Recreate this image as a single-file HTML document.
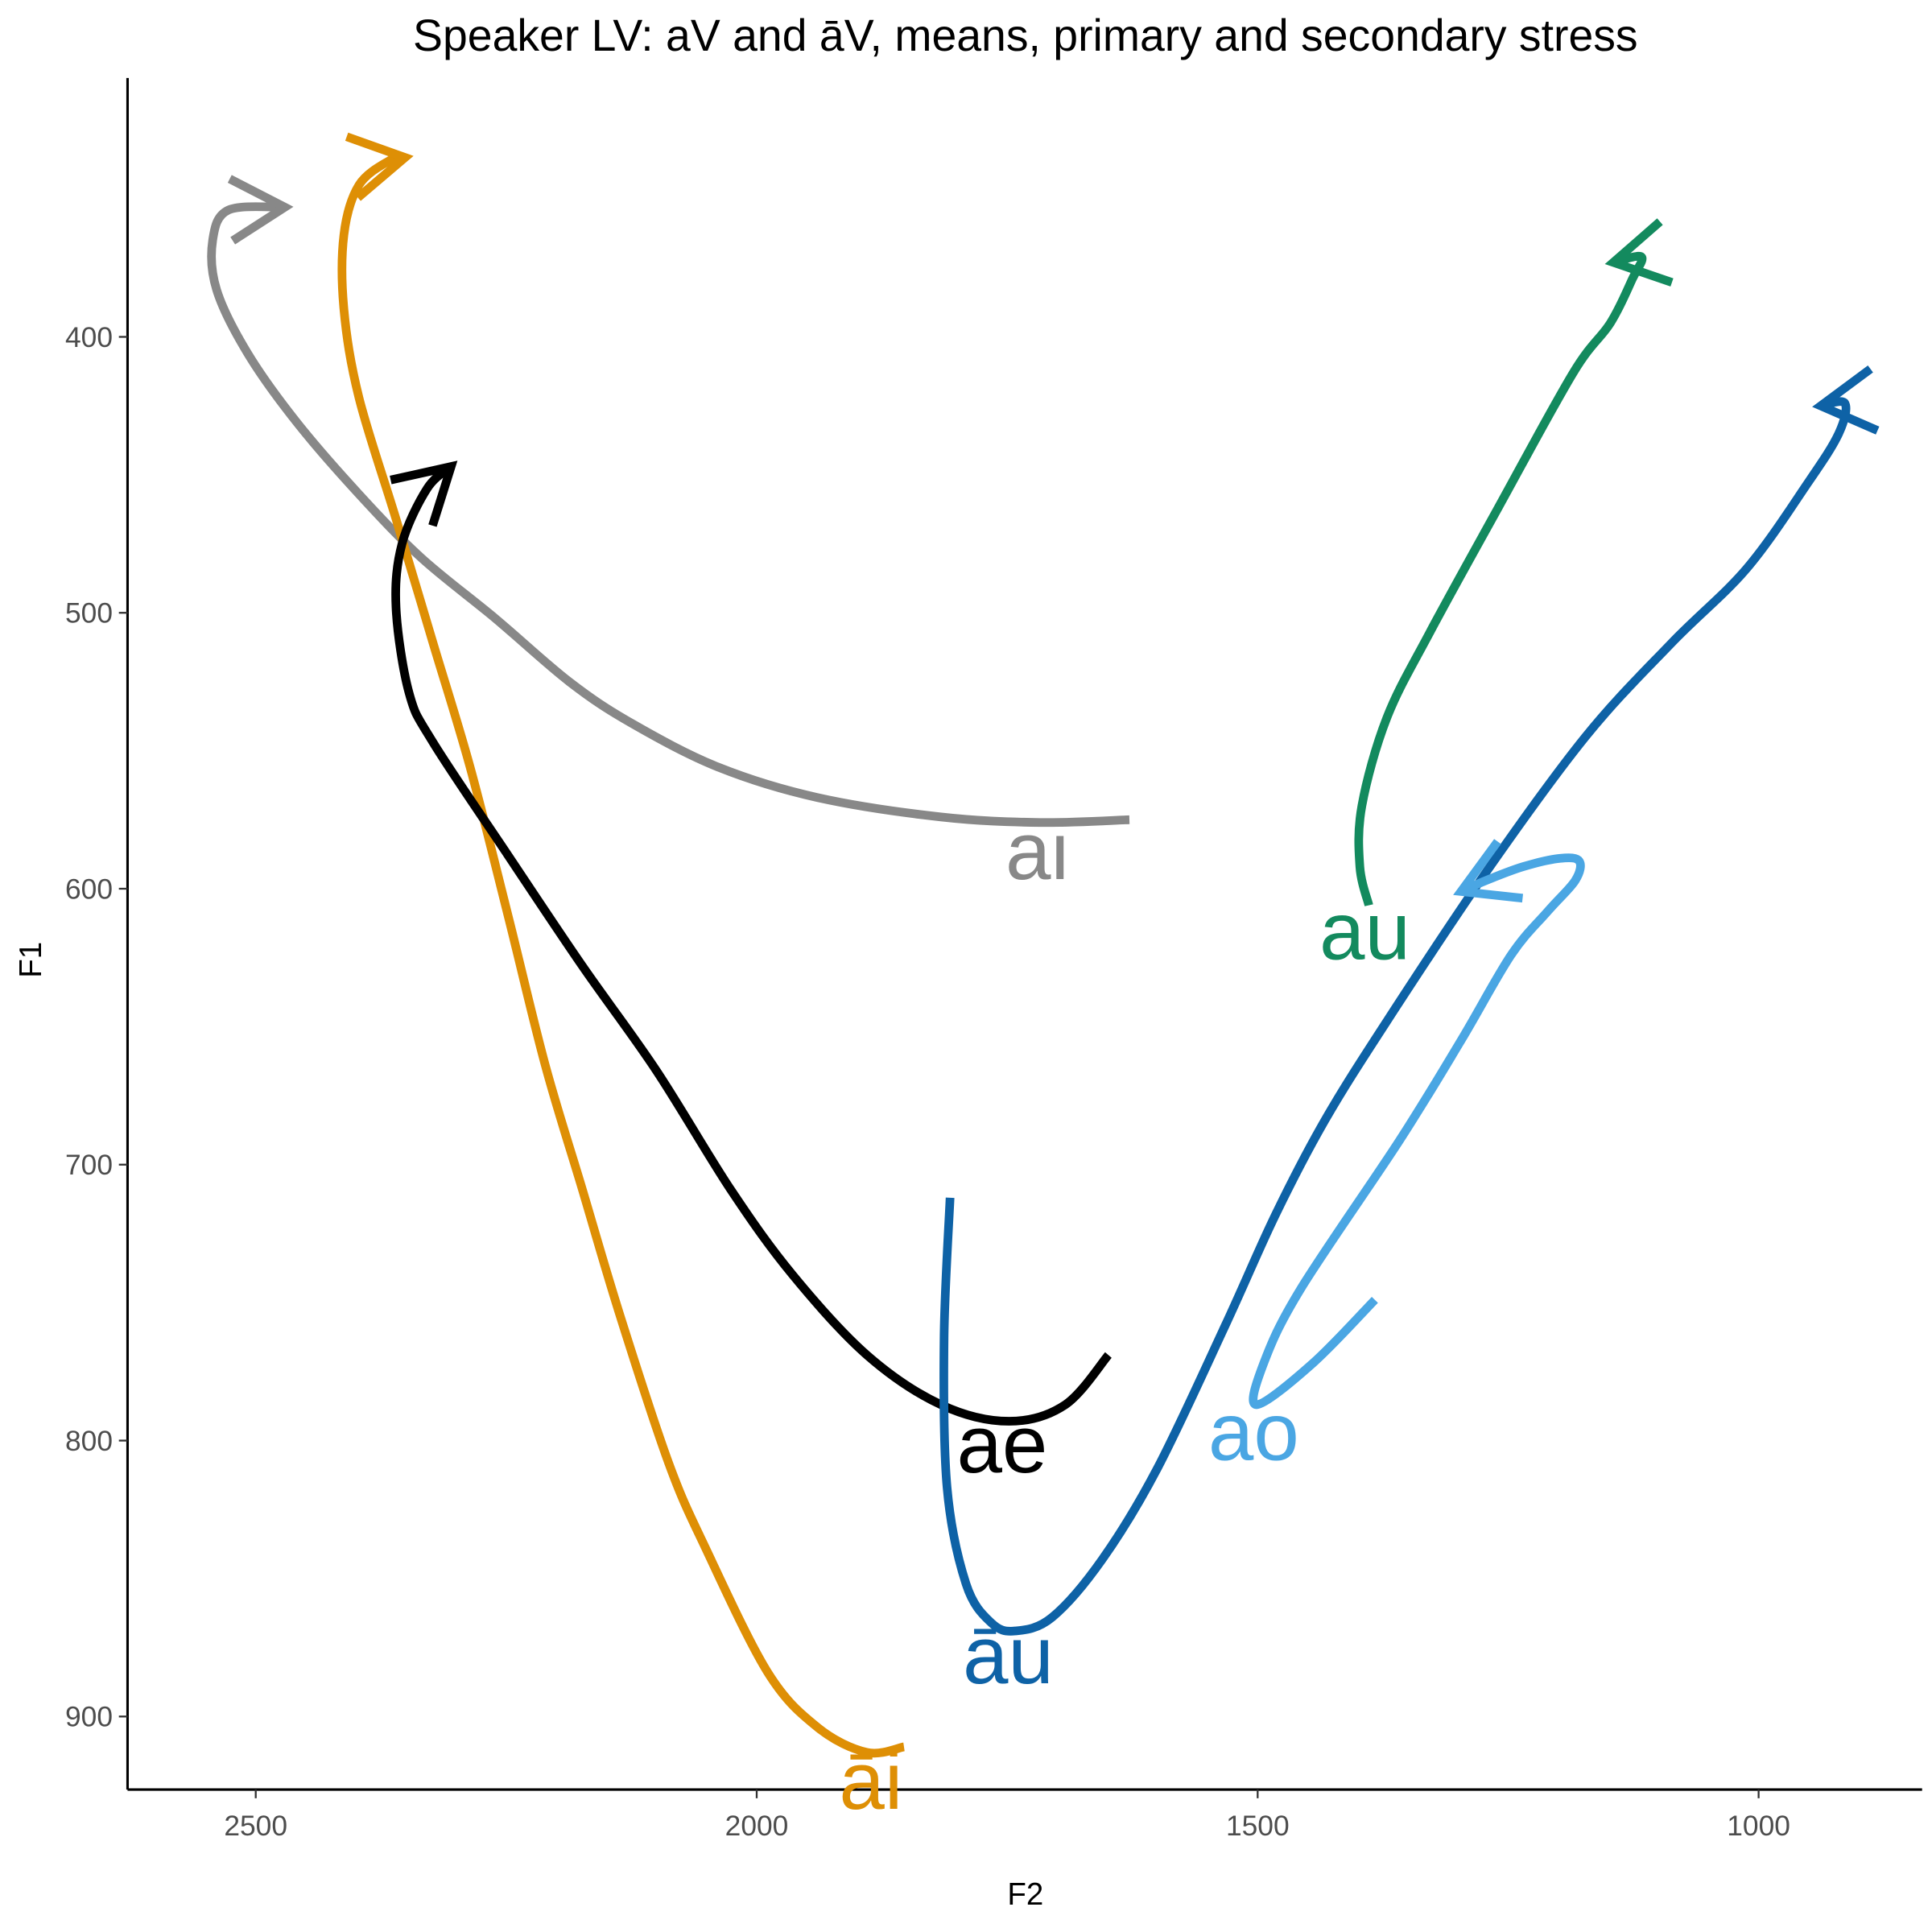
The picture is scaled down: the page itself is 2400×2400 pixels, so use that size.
<!DOCTYPE html>
<html><head><meta charset="utf-8"><style>
html,body{margin:0;padding:0;background:#fff;}
svg{display:block;font-family:"Liberation Sans",Arial,sans-serif;}
</style></head><body>
<svg id="chart" width="2400" height="2400" viewBox="0 0 1560 1560" xmlns="http://www.w3.org/2000/svg">
<rect width="1560" height="1560" fill="#fff"/>
<text x="828" y="41" text-anchor="middle" font-size="36" fill="#000">Speaker LV: aV and āV, means, primary and secondary stress</text>
<g id="axes"></g>
<g id="series"></g>
<text x="828" y="1538" text-anchor="middle" font-size="25" fill="#000">F2</text>
<text transform="translate(33,775) rotate(-90)" text-anchor="middle" font-size="25" fill="#000">F1</text>
</svg>
<script>
const xTicks=[2500,2000,1500,1000];
const yTicks=[400,500,600,700,800,900];
const seriesNames=["ai","āi","ae","āu","au","ao"];
const seriesColors=["#888888","#DE8F05","#000000","#0E62A6","#138A5E","#4AA6E3"];
const aiF2=[1628,1717,1816,1939,2038,2125,2187,2261,2335,2397,2459,2508,2539,2543,2527,2471];
const aiF1=[575,576,574,567,556,540,525,502,480,457,431,406,383,365,354,353];
const aiiF2=[1853,1890,1939,1989,2051,2088,2137,2174,2211,2248,2286,2323,2360,2397,2412,2412,2397,2366,2351];
const aiiF1=[911,913,904,884,839,808,754,709,664,610,556,511,466,422,390,363,345,336,335];
const aeF2=[1649,1692,1748,1816,1890,1964,2026,2100,2174,2248,2323,2347,2360,2354,2329,2305];
const aeF1=[769,787,793,787,769,740,709,666,628,588,547,529,498,475,455,447];
const auuF2=[1807,1813,1810,1791,1766,1742,1705,1655,1600,1532,1482,1433,1371,1272,1173,1087,1012,951,920,914,938];
const auuF1=[712,763,817,852,866,869,864,843,810,758,718,684,648,594,545,511,484,453,435,424,425];
const auF2=[1389,1398,1396,1371,1328,1260,1185,1148,1126,1117,1145];
const auF1=[606,592,570,538,507,462,413,395,379,371,373];
const aoF2=[1383,1445,1501,1494,1457,1358,1297,1247,1210,1183,1179,1198,1235,1272,1297];
const aoF1=[749,772,787,772,745,691,655,624,608,597,590,589,592,597,601];
const labelF2=[1720,1886,1755,1749,1393,1504];
const labelF1=[587.5,924.5,802.5,879,616.5,798];

const sx=f=>611+(2000-f)*0.809;
const sy=f=>272+(f-400)*2.228;
const NS="http://www.w3.org/2000/svg";
const axes=document.getElementById('axes');
const ser=document.getElementById('series');
function mk(tag,attrs,parent){const e=document.createElementNS(NS,tag);for(const k in attrs)e.setAttribute(k,attrs[k]);parent.appendChild(e);return e;}
const yAxis=mk('line',{x1:103,y1:63,x2:103,y2:1445,stroke:'#000','stroke-width':2},axes);


const xAxis=mk('line',{x1:103,y1:1445,x2:1552,y2:1445,stroke:'#000','stroke-width':2},axes);


xTicks.forEach(t=>{const x=sx(t);
 const l=mk('line',{x1:x,y1:1445,x2:x,y2:1452,stroke:'#333','stroke-width':1.5},axes);
 
 
 const tx=mk('text',{x:x,y:1482,'text-anchor':'middle','font-size':23,fill:'#4d4d4d'},axes);tx.textContent=t;
 
 
});
yTicks.forEach(t=>{const y=sy(t);
 const l=mk('line',{x1:96,y1:y,x2:103,y2:y,stroke:'#333','stroke-width':1.5},axes);
 
 
 const tx=mk('text',{x:91,y:y+8,'text-anchor':'end','font-size':23,fill:'#4d4d4d'},axes);tx.textContent=t;
 
 
});
function pathD(p){let d=`M${p[0][0]},${p[0][1]}`;
 for(let i=0;i<p.length-1;i++){const p0=p[Math.max(0,i-1)],p1=p[i],p2=p[i+1],p3=p[Math.min(p.length-1,i+2)];
  const c1=[p1[0]+(p2[0]-p0[0])/6,p1[1]+(p2[1]-p0[1])/6],c2=[p2[0]-(p3[0]-p1[0])/6,p2[1]-(p3[1]-p1[1])/6];
  d+=` C${c1[0]},${c1[1]} ${c2[0]},${c2[1]} ${p2[0]},${p2[1]}`;}
 return d;}
const allF2=[aiF2,aiiF2,aeF2,auuF2,auF2,aoF2],allF1=[aiF1,aiiF1,aeF1,auuF1,auF1,aoF1];
seriesNames.forEach((n,i)=>{
 const pts=allF2[i].map((f,j)=>[sx(f),sy(allF1[i][j])]);
 const g=mk('g',{},ser);
 
 
 mk('path',{d:pathD(pts),fill:'none',stroke:seriesColors[i],'stroke-width':7,'stroke-linecap':'butt','stroke-linejoin':'round'},g);
 const e=pts[pts.length-1];const s=pts[pts.length-2];
 const a=Math.atan2(e[1]-s[1],e[0]-s[0]);const L=50,w=Math.PI/6;
 const ah=mk('path',{d:`M${e[0]-L*Math.cos(a-w)},${e[1]-L*Math.sin(a-w)} L${e[0]},${e[1]} L${e[0]-L*Math.cos(a+w)},${e[1]-L*Math.sin(a+w)}`,fill:'none',stroke:seriesColors[i],'stroke-width':7},g);
 
 
 const t=mk('text',{x:sx(labelF2[i]),y:sy(labelF1[i])+20,'text-anchor':'middle','font-size':66,fill:seriesColors[i]},g);
 t.textContent=n;
 
 
});
</script>
</body></html>
